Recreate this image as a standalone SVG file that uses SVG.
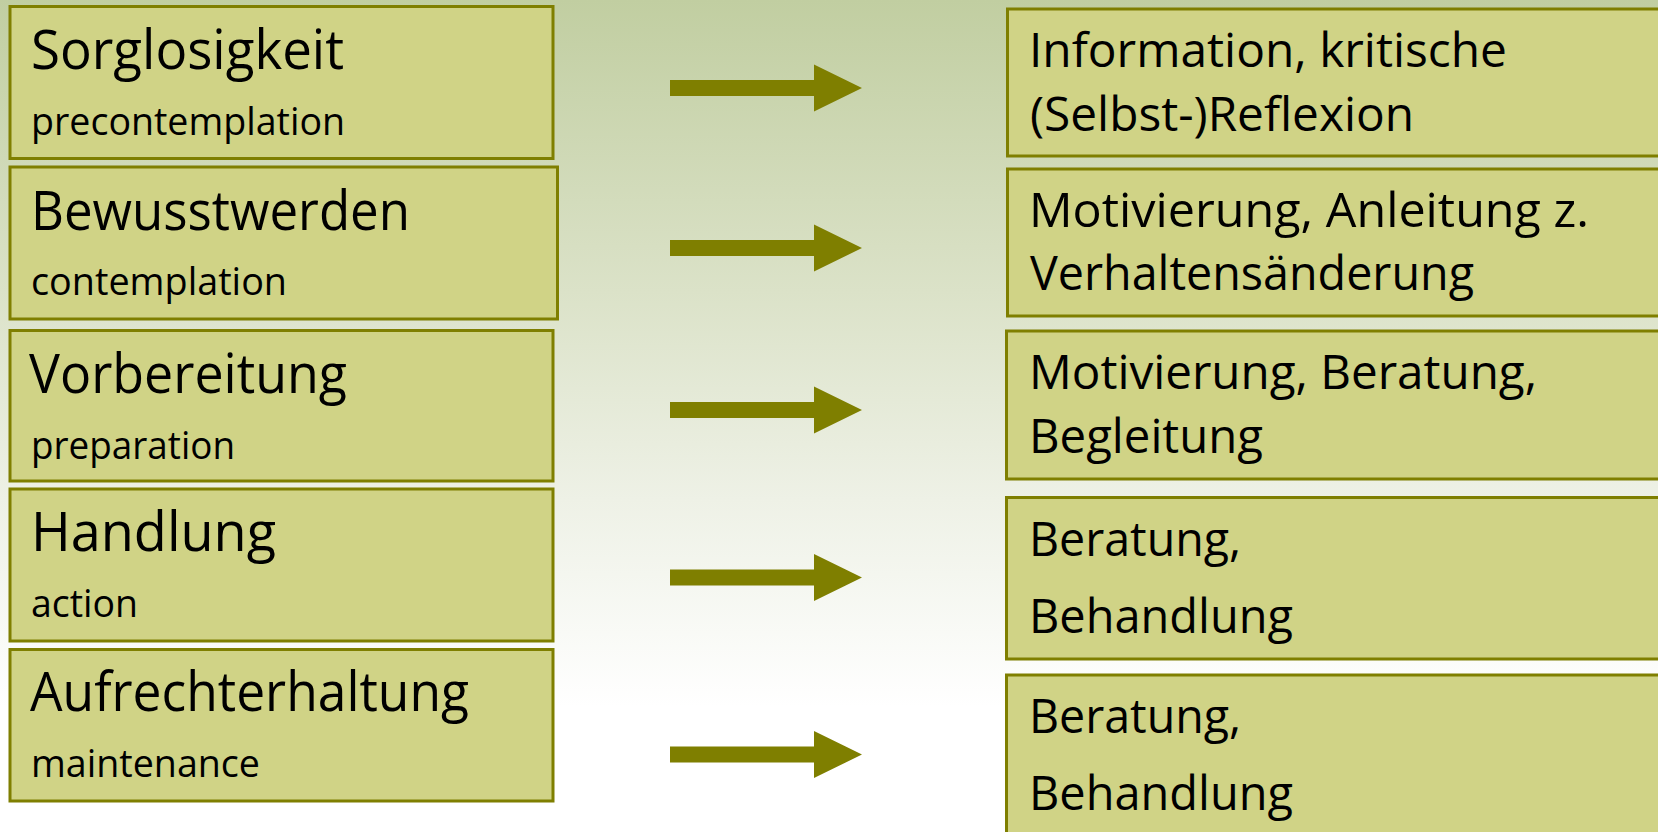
<svg xmlns="http://www.w3.org/2000/svg" width="1658" height="832" viewBox="0 0 1658 832">
<defs>
<linearGradient id="bg" x1="0" y1="0" x2="0" y2="1">
<stop offset="0" stop-color="#c1cea1"/>
<stop offset="0.35" stop-color="#dbe2c8"/>
<stop offset="0.6" stop-color="#eef1e6"/>
<stop offset="0.85" stop-color="#ffffff"/>
<stop offset="1" stop-color="#ffffff"/>
</linearGradient>
<style>
.box{fill:#d0d386;stroke:#7f7f00;stroke-width:3}
.t{font-family:"Open Sans","Noto Sans",sans-serif;fill:#000}
.h{font-size:55px}
.s{font-size:39px}
.r{font-size:48px}
.arrow{fill:#7f7f00}
</style>
</defs>
<rect x="0" y="0" width="1658" height="832" fill="url(#bg)"/>

<g id="stage1">
<rect class="box" x="10" y="6.5" width="543" height="152"/>
<text class="t h" x="31" y="69.3" textLength="313" lengthAdjust="spacingAndGlyphs">Sorglosigkeit</text>
<text class="t s" x="31" y="135" textLength="314" lengthAdjust="spacingAndGlyphs">precontemplation</text>
</g>
<g id="stage2">
<rect class="box" x="10" y="167" width="547.5" height="152"/>
<text class="t h" x="31" y="230" textLength="379" lengthAdjust="spacingAndGlyphs">Bewusstwerden</text>
<text class="t s" x="31" y="295" textLength="256" lengthAdjust="spacingAndGlyphs">contemplation</text>
</g>
<g id="stage3">
<rect class="box" x="10" y="330.5" width="543" height="150.5"/>
<text class="t h" x="29" y="392.7" textLength="318" lengthAdjust="spacingAndGlyphs">Vorbereitung</text>
<text class="t s" x="31" y="459.3" textLength="204" lengthAdjust="spacingAndGlyphs">preparation</text>
</g>
<g id="stage4">
<rect class="box" x="10" y="489" width="543" height="152"/>
<text class="t h" x="31" y="551" textLength="245" lengthAdjust="spacingAndGlyphs">Handlung</text>
<text class="t s" x="31" y="616.7" textLength="107" lengthAdjust="spacingAndGlyphs">action</text>
</g>
<g id="stage5">
<rect class="box" x="10" y="649.5" width="543" height="151.5"/>
<text class="t h" x="30" y="711" textLength="439" lengthAdjust="spacingAndGlyphs">Aufrechterhaltung</text>
<text class="t s" x="31" y="776.7" textLength="229" lengthAdjust="spacingAndGlyphs">maintenance</text>
</g>

<g id="action1">
<rect class="box" x="1007.5" y="9" width="700" height="147"/>
<text class="t r" x="1029" y="66.7" textLength="478" lengthAdjust="spacingAndGlyphs">Information, kritische</text>
<text class="t r" x="1030" y="130.7" textLength="384" lengthAdjust="spacingAndGlyphs">(Selbst-)Reflexion</text>
</g>
<g id="action2">
<rect class="box" x="1007.5" y="169" width="700" height="147"/>
<text class="t r" x="1029" y="226.7" textLength="560" lengthAdjust="spacingAndGlyphs">Motivierung, Anleitung z.</text>
<text class="t r" x="1030" y="290" textLength="444" lengthAdjust="spacingAndGlyphs">Verhaltensänderung</text>
</g>
<g id="action3">
<rect class="box" x="1006.5" y="331" width="700" height="148"/>
<text class="t r" x="1029" y="389.3" textLength="508" lengthAdjust="spacingAndGlyphs">Motivierung, Beratung,</text>
<text class="t r" x="1029" y="452.7" textLength="234" lengthAdjust="spacingAndGlyphs">Begleitung</text>
</g>
<g id="action4">
<rect class="box" x="1006.5" y="497.5" width="700" height="161.5"/>
<text class="t r" x="1029" y="556" textLength="212" lengthAdjust="spacingAndGlyphs">Beratung,</text>
<text class="t r" x="1029" y="632.7" textLength="264" lengthAdjust="spacingAndGlyphs">Behandlung</text>
</g>
<g id="action5">
<rect class="box" x="1006.5" y="675" width="700" height="220"/>
<text class="t r" x="1029" y="733.3" textLength="212" lengthAdjust="spacingAndGlyphs">Beratung,</text>
<text class="t r" x="1029" y="810" textLength="264" lengthAdjust="spacingAndGlyphs">Behandlung</text>
</g>

<g id="connectors">
<path class="arrow" d="M670,80 H814 V64.5 L862,88 L814,111.5 V96 H670 Z"/>
<path class="arrow" d="M670,240 H814 V224.5 L862,248 L814,271.5 V256 H670 Z"/>
<path class="arrow" d="M670,402 H814 V386.5 L862,410 L814,433.5 V418 H670 Z"/>
<path class="arrow" d="M670,569.5 H814 V554 L862,577.5 L814,601 V585.5 H670 Z"/>
<path class="arrow" d="M670,746.5 H814 V731 L862,754.5 L814,778 V762.5 H670 Z"/>
</g>
</svg>
